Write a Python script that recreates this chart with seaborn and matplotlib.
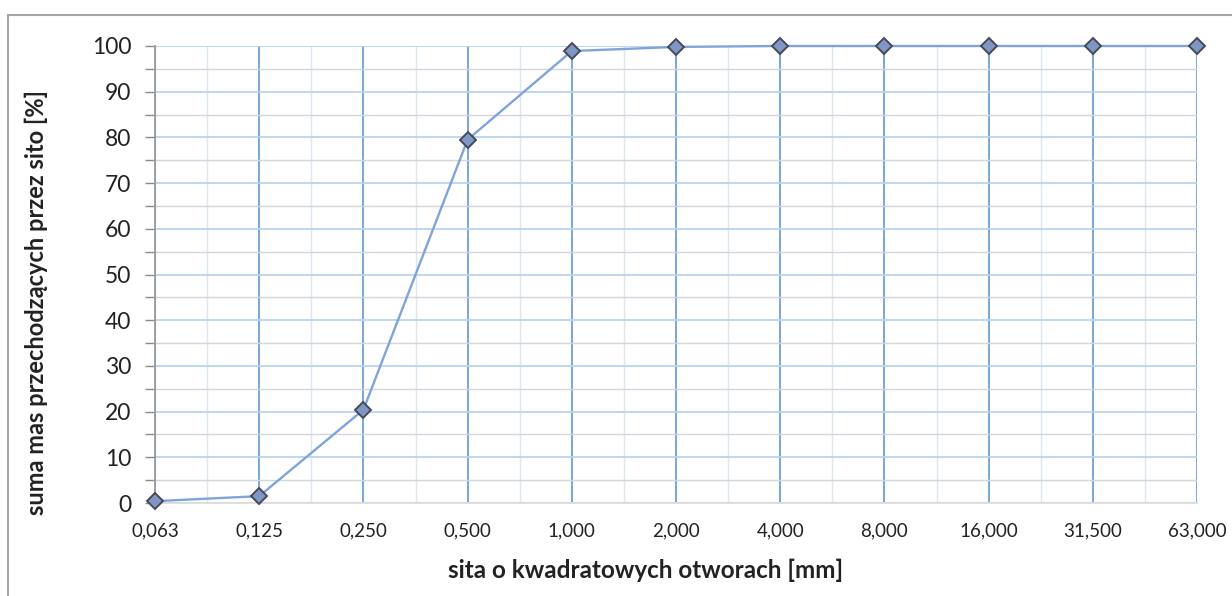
import numpy as np
import seaborn as sns
import matplotlib.pyplot as plt
from matplotlib.patches import Rectangle
from matplotlib.ticker import MultipleLocator

sieves = ['0,063', '0,125', '0,250', '0,500', '1,000', '2,000', '4,000',
          '8,000', '16,000', '31,500', '63,000']
passing = [0.4, 1.5, 20.4, 79.5, 98.9, 99.8, 100.0, 100.0, 100.0, 100.0, 100.0]
y_ticks = [0, 10, 20, 30, 40, 50, 60, 70, 80, 90, 100]

sns.set_theme(style='white')
plt.rcParams['font.family'] = ['Lato', 'DejaVu Sans']

fig = plt.figure(figsize=(12.32, 5.96), dpi=100)
ax = fig.add_axes([155/1232, 1-503/596, (1197-155)/1232, (503-46)/596])

x_pos = np.arange(len(sieves))
sns.lineplot(x=x_pos, y=passing, ax=ax, color='#7fa3dc', lw=1.7,
             marker='D', markersize=8, markerfacecolor='#8096c4',
             markeredgecolor='#454a55', markeredgewidth=1.4, clip_on=False, zorder=5)

ax.set_xlim(0, len(sieves) - 1)
ax.set_ylim(0, 100)
ax.set_xticks(x_pos)
ax.set_xticklabels(sieves, fontsize=13.5, color='#222222')
ax.set_yticks(y_ticks)
ax.set_yticklabels([str(v) for v in y_ticks], fontsize=16.5, color='#222222')
ax.yaxis.set_minor_locator(MultipleLocator(5))
ax.xaxis.set_minor_locator(MultipleLocator(0.5))

ax.grid(True, which='major', axis='x', color='#7ea8d6', lw=1.5)
ax.grid(True, which='minor', axis='x', color='#dbe6f1', lw=1.0)
ax.grid(True, which='major', axis='y', color='#b9d3ee', lw=1.3)
ax.grid(True, which='minor', axis='y', color='#d2d6dc', lw=1.0)
ax.set_axisbelow(True)

ax.tick_params(axis='x', which='both', length=0, pad=14)
ax.tick_params(axis='y', which='major', length=7, width=1, color='#8c8c8c', pad=10, left=True)
ax.tick_params(axis='y', which='minor', length=7, width=1, color='#8c8c8c', left=True)

for side in ['top', 'right']:
    ax.spines[side].set_visible(False)
ax.spines['left'].set_color('#9a9a9a')
ax.spines['bottom'].set_color('#dcdcdc')

ax.set_xlabel('sita o kwadratowych otworach [mm]', fontsize=17.5, fontweight='bold',
              color='#222222')
ax.set_ylabel('suma mas przechodzących przez sito [%]', fontsize=17, fontweight='bold',
              color='#222222')
ax.xaxis.set_label_coords(0.471, -0.122)
ax.yaxis.set_label_coords(-0.103, 0.438)

fig.patches.append(Rectangle((8/1232, -0.1), 1.2, 1.1 - 15/596,
                             transform=fig.transFigure, fill=False,
                             edgecolor='#a6a6a6', lw=1.5))

fig.savefig('out.png', dpi=100)
